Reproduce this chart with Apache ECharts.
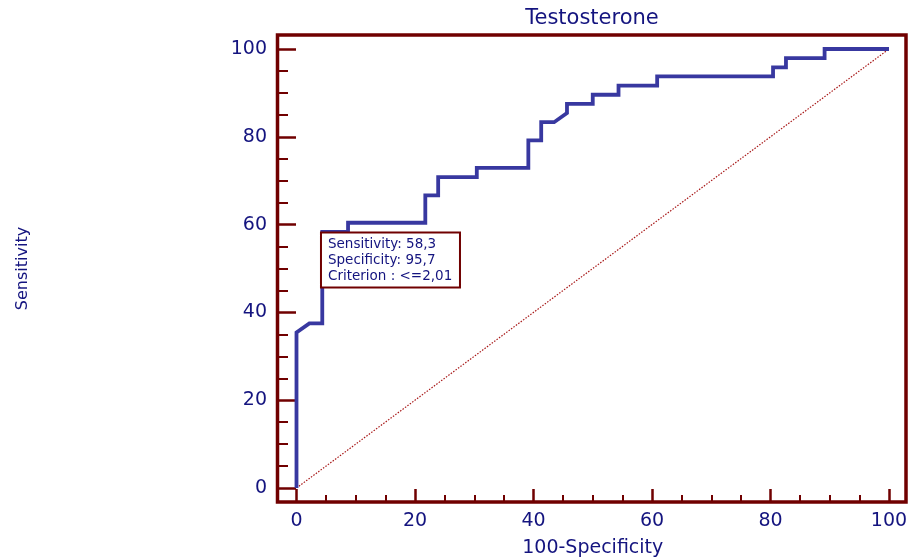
<!DOCTYPE html>
<html>
<head>
<meta charset="utf-8">
<title>Testosterone ROC</title>
<script src="https://cdn.jsdelivr.net/npm/echarts@6/dist/echarts.min.js"></script>
<style>
    html, body { margin: 0; padding: 0; background: #fff; }
    #rocChart { width: 908px; height: 557px; }
</style>
</head>
<body>
<div id="rocChart"></div>
<script>
// ROC curve - Testosterone

const fprValues = [0, 0, 2.17, 4.35, 4.35, 8.70, 8.70, 21.74, 21.74, 23.91, 23.91, 30.43, 30.43, 39.13, 39.13,
    41.30, 41.30, 43.48, 45.65, 45.65, 50.00, 50.00, 54.35, 54.35, 60.87, 60.87, 80.43, 80.43, 82.61, 82.61,
    89.13, 89.13, 100];
const tprValues = [0, 35.42, 37.50, 37.50, 58.33, 58.33, 60.42, 60.42, 66.67, 66.67, 70.83, 70.83, 72.92, 72.92, 79.17,
    79.17, 83.33, 83.33, 85.42, 87.50, 87.50, 89.58, 89.58, 91.67, 91.67, 93.75, 93.75, 95.83, 95.83, 97.92,
    97.92, 100, 100];
const diagonal = [[0, 0], [100, 100]];

const cutoffSensitivity = 58.3;
const cutoffSpecificity = 95.7;
const cutoffCriterion = "<=2,01";

const xTicks = [0, 20, 40, 60, 80, 100];
const yTicks = [0, 20, 40, 60, 80, 100];

(function () {

    const dom = document.getElementById("rocChart");
    const chart = echarts.init(dom);

    const NAVY = "#14147f";
    const DARKRED = "#700000";
    const FONT = "DejaVu Sans";

    const curve = fprValues.map((x, i) => [x, tprValues[i]]);

    const axisCommon = {
        type: "value",
        min: 0,
        max: 100,
        interval: 20,
        // keep the line "on" so ticks follow the offset, but draw nothing
        axisLine: { show: true, onZero: false, lineStyle: { color: "rgba(0,0,0,0)", width: 0 } },
        splitLine: { show: false },
        minorSplitLine: { show: false }
    };

    chart.setOption({
        backgroundColor: "#fff",
        animation: false,
        title: {
            text: "Testosterone",
            left: 592,
            top: 8,
            padding: 0,
            textAlign: "center",
            textStyle: { color: NAVY, fontSize: 21, fontWeight: "normal", fontFamily: FONT }
        },
        grid: { left: 296.5, right: 19, top: 49, bottom: 69, outerBoundsMode: "none" },
        xAxis: Object.assign({}, axisCommon, {
            offset: 14,
            name: "100-Specificity",
            nameLocation: "middle",
            nameGap: 37,
            nameTextStyle: { color: NAVY, fontSize: 19, fontFamily: FONT },
            axisTick: { inside: true, length: 13, lineStyle: { color: DARKRED, width: 2.5 } },
            minorTick: { show: true, splitNumber: 4, length: 7, lineStyle: { color: DARKRED, width: 2 } },
            axisLabel: {
                margin: 10, color: NAVY, fontSize: 19, fontFamily: FONT,
                formatter: (v) => xTicks.includes(v) ? String(v) : ""
            }
        }),
        yAxis: Object.assign({}, axisCommon, {
            offset: 19.5,
            name: "Sensitivity",
            nameLocation: "middle",
            nameGap: 246,
            nameTextStyle: { color: NAVY, fontSize: 16, fontFamily: FONT },
            axisTick: { inside: true, length: 19, lineStyle: { color: DARKRED, width: 2.5 } },
            minorTick: { show: true, splitNumber: 4, length: 11, lineStyle: { color: DARKRED, width: 2 } },
            axisLabel: {
                margin: 10, color: NAVY, fontSize: 19, fontFamily: FONT,
                formatter: (v) => yTicks.includes(v) ? String(v) : ""
            }
        }),
        graphic: [{
            type: "rect",
            z: 50,
            shape: { x: 277.5, y: 35, width: 628.5, height: 467 },
            style: { fill: "none", stroke: DARKRED, lineWidth: 3.5 }
        }],
        series: [
            {
                type: "line",
                data: diagonal,
                symbol: "none",
                silent: true,
                lineStyle: { color: "#a81818", width: 1.2, type: [1.5, 1.5] }
            },
            {
                type: "line",
                data: curve,
                symbol: "none",
                lineStyle: { color: "#3838a0", width: 3.8, join: "miter" },
                markPoint: {
                    symbol: "rect",
                    symbolSize: 1,
                    itemStyle: { color: "transparent" },
                    data: [{ coord: [100 - cutoffSpecificity, cutoffSensitivity] }],
                    label: {
                        show: true,
                        position: [0.5, 2],
                        align: "left",
                        verticalAlign: "top",
                        formatter: [
                            "Sensitivity: " + String(cutoffSensitivity).replace(".", ","),
                            "Specificity: " + String(cutoffSpecificity).replace(".", ","),
                            "Criterion : " + cutoffCriterion
                        ].join("\n"),
                        color: NAVY,
                        fontSize: 13.5,
                        fontFamily: FONT,
                        lineHeight: 16,
                        width: 125,
                        backgroundColor: "#fff",
                        borderColor: DARKRED,
                        borderWidth: 2,
                        padding: [3, 6, 2, 6]
                    }
                }
            }
        ]
    });

    window.addEventListener("resize", () => chart.resize());

})();
</script>
</body>
</html>
